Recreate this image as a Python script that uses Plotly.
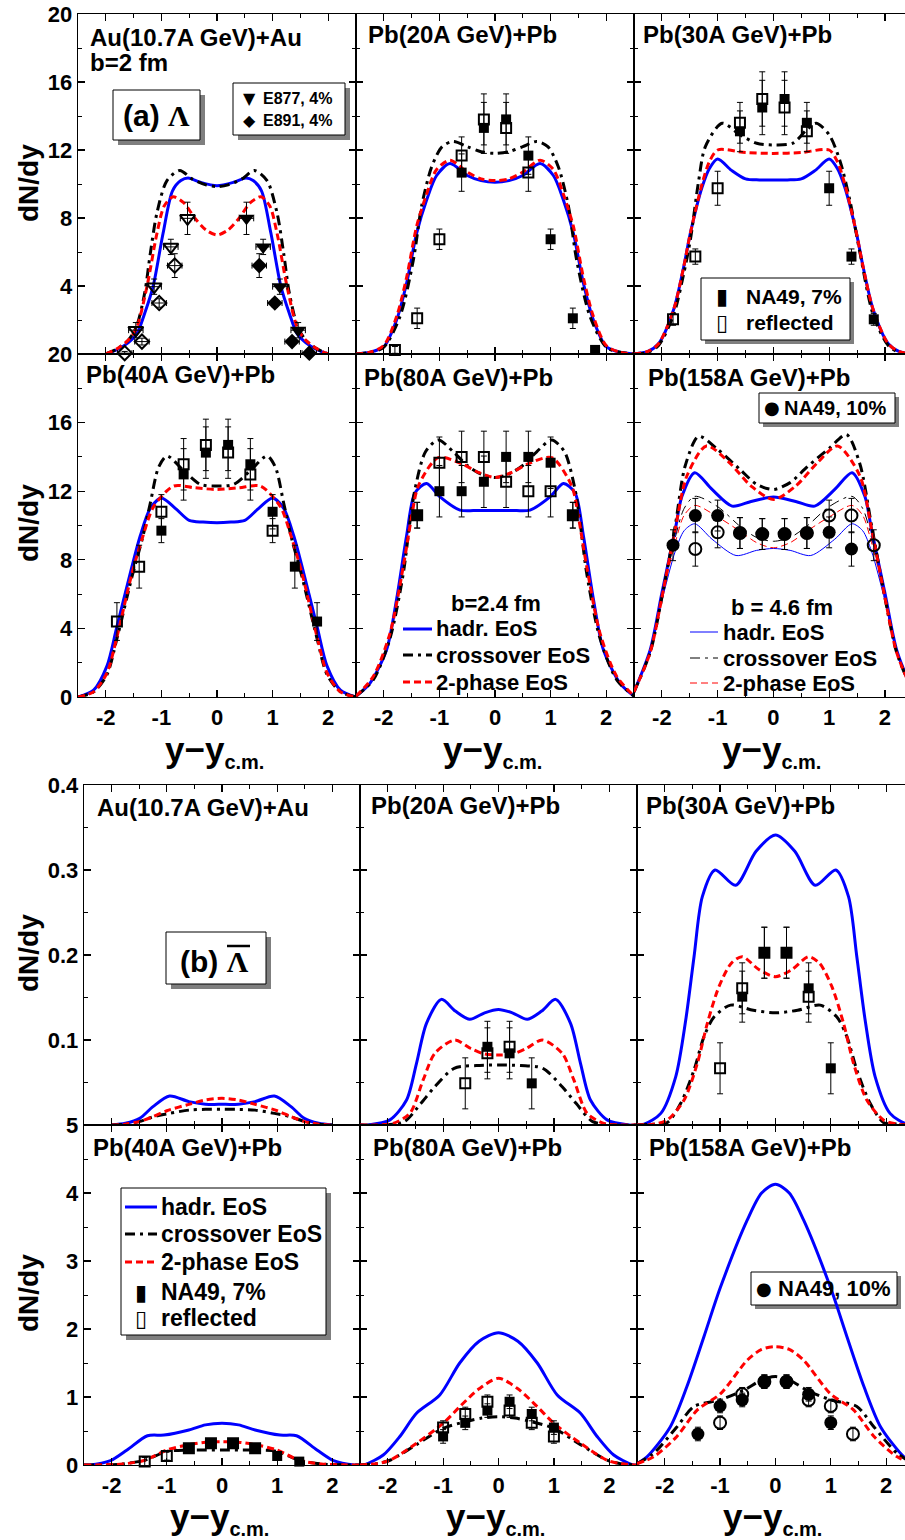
import plotly.graph_objects as go

# ===================== data =====================
# ---- (a) Lambda, Au(10.7A GeV)+Au, b=2 fm ----
AU_LAM_HADR_X = [-2.0,-1.8,-1.6,-1.44,-1.3,-1.15,-0.97,-0.8,-0.65,-0.52,-0.3,0.0,0.3,0.52,0.65,0.8,0.97,1.15,1.3,1.44,1.6,1.8,2.0]
AU_LAM_HADR_Y = [0.0,0.25,0.65,1.2,2.4,3.96,7.1,9.6,10.2,10.35,10.1,9.9,10.1,10.35,10.2,9.6,7.1,3.96,2.4,1.2,0.65,0.25,0.0]
AU_LAM_CROSS_X = [-2.0,-1.8,-1.6,-1.45,-1.3,-1.2,-1.08,-0.9,-0.67,-0.45,-0.2,0.0,0.2,0.45,0.67,0.9,1.08,1.2,1.3,1.45,1.6,1.8,2.0]
AU_LAM_CROSS_Y = [0.0,0.3,0.8,1.6,3.6,5.9,8.3,10.2,10.8,10.3,9.95,9.85,9.95,10.3,10.8,10.2,8.3,5.9,3.6,1.6,0.8,0.3,0.0]
AU_LAM_2PH_X = [-2.0,-1.8,-1.6,-1.45,-1.26,-1.08,-0.95,-0.79,-0.6,-0.4,-0.2,0.0,0.2,0.4,0.6,0.79,0.95,1.08,1.26,1.45,1.6,1.8,2.0]
AU_LAM_2PH_Y = [0.0,0.3,0.8,1.5,3.96,7.1,8.7,9.25,8.9,8.0,7.3,7.0,7.3,8.0,8.9,9.25,8.7,7.1,3.96,1.5,0.8,0.3,0.0]
E877_X = [0.53, 0.83, 1.13, 1.46]
E877_Y = [7.98, 6.3, 3.96, 1.4]
E877_ERR = [0.95, 0.45, 0.45, 0.45]
E877_REFL_X = [-0.53, -0.83, -1.13, -1.46]
E877_REFL_Y = [7.98, 6.3, 3.96, 1.4]
E891_X = [0.76, 1.04, 1.35, 1.66]
E891_Y = [5.2, 3.0, 0.73, 0.05]
E891_ERR = [0.7, 0.25, 0.2, 0.1]
E891_REFL_X = [-0.76, -1.04, -1.35, -1.66]
E891_REFL_Y = [5.2, 3.0, 0.73, 0.05]
AGS_XERR = [0.13, 0.13, 0.13, 0.13]

# ---- Lambda, Pb(20A GeV)+Pb ----
PB20_LAM_HADR_X = [-2.5,-2.25,-2.0,-1.77,-1.59,-1.41,-1.23,-1.05,-0.81,-0.5,-0.25,0.0,0.25,0.5,0.81,1.05,1.23,1.41,1.59,1.77,2.0,2.25,2.5]
PB20_LAM_HADR_Y = [0.0,0.1,0.43,2.0,4.16,7.1,9.06,10.5,11.2,10.5,10.2,10.1,10.2,10.5,11.2,10.5,9.06,7.1,4.16,2.0,0.43,0.1,0.0]
PB20_LAM_2PH_X = [-2.5,-2.25,-2.0,-1.77,-1.59,-1.41,-1.23,-1.05,-0.81,-0.5,-0.25,0.0,0.25,0.5,0.81,1.05,1.23,1.41,1.59,1.77,2.0,2.25,2.5]
PB20_LAM_2PH_Y = [0.0,0.1,0.5,2.2,4.5,7.5,9.4,10.85,11.4,10.7,10.3,10.2,10.3,10.7,11.4,10.85,9.4,7.5,4.5,2.2,0.5,0.1,0.0]
PB20_LAM_CROSS_X = [-2.5,-2.25,-2.0,-1.71,-1.47,-1.32,-1.14,-0.95,-0.75,-0.5,-0.25,0.0,0.25,0.5,0.75,0.95,1.14,1.32,1.47,1.71,2.0,2.25,2.5]
PB20_LAM_CROSS_Y = [0.0,0.1,0.4,2.2,5.5,8.7,11.0,12.2,12.5,12.2,11.9,11.8,11.9,12.2,12.5,12.2,11.0,8.7,5.5,2.2,0.4,0.1,0.0]
PB20_LAM_DATA_X = [-0.6, -0.2, 0.2, 0.6, 1.0, 1.4, 1.8]
PB20_LAM_DATA_Y = [10.67, 13.3, 13.8, 11.67, 6.75, 2.1, 0.24]
PB20_LAM_DATA_ERR = [1.1, 1.5, 1.5, 1.1, 0.6, 0.6, 0.2]
PB20_LAM_REFL_X = [-1.8, -1.4, -1.0, -0.6, -0.2, 0.2, 0.6]
PB20_LAM_REFL_Y = [0.24, 2.1, 6.75, 11.67, 13.8, 13.3, 10.67]
PB20_LAM_REFL_ERR = [0.2, 0.6, 0.6, 1.1, 1.5, 1.5, 1.1]

# ---- Lambda, Pb(30A GeV)+Pb ----
PB30_LAM_HADR_X = [-2.5,-2.25,-2.06,-1.79,-1.61,-1.49,-1.28,-1.15,-1.0,-0.75,-0.5,-0.25,0.0,0.25,0.5,0.75,1.0,1.15,1.28,1.49,1.61,1.79,2.06,2.25,2.5]
PB30_LAM_HADR_Y = [0.0,0.15,0.6,2.6,5.1,7.1,9.8,10.9,11.47,10.8,10.3,10.24,10.24,10.24,10.3,10.8,11.47,10.9,9.8,7.1,5.1,2.6,0.6,0.15,0.0]
PB30_LAM_2PH_X = [-2.5,-2.25,-2.06,-1.79,-1.61,-1.49,-1.28,-1.15,-1.0,-0.5,0.0,0.5,1.0,1.15,1.28,1.49,1.61,1.79,2.06,2.25,2.5]
PB30_LAM_2PH_Y = [0.0,0.15,0.6,2.6,5.1,7.1,10.0,11.3,12.0,11.85,11.8,11.85,12.0,11.3,10.0,7.1,5.1,2.6,0.6,0.15,0.0]
PB30_LAM_CROSS_X = [-2.5,-2.25,-2.06,-1.79,-1.61,-1.49,-1.34,-1.22,-0.92,-0.6,-0.3,0.0,0.35,0.6,0.77,1.0,1.19,1.37,1.55,1.79,2.06,2.25,2.5]
PB30_LAM_CROSS_Y = [0.0,0.1,0.5,2.3,4.7,6.7,10.2,12.2,13.57,12.9,12.4,12.3,12.4,13.2,13.57,12.9,11.4,9.06,6.0,2.3,0.5,0.1,0.0]
PB30_LAM_DATA_X = [-0.6, -0.2, 0.2, 0.6, 1.0, 1.4, 1.8]
PB30_LAM_DATA_Y = [13.1, 14.5, 15.0, 13.6, 9.75, 5.73, 2.04]
PB30_LAM_DATA_ERR = [1.2, 1.6, 1.6, 1.2, 1.0, 0.45, 0.35]
PB30_LAM_REFL_X = [-1.8, -1.4, -1.0, -0.6, -0.2, 0.2, 0.6]
PB30_LAM_REFL_Y = [2.04, 5.73, 9.75, 13.6, 15.0, 14.5, 13.1]
PB30_LAM_REFL_ERR = [0.35, 0.45, 1.0, 1.2, 1.6, 1.6, 1.2]

# ---- Lambda, Pb(40A GeV)+Pb ----
PB40_LAM_HADR_X = [-2.5,-2.22,-1.98,-1.8,-1.53,-1.38,-1.2,-1.0,-0.75,-0.5,-0.25,0.0,0.25,0.5,0.75,1.0,1.2,1.38,1.53,1.8,1.98,2.22,2.5]
PB40_LAM_HADR_Y = [0.0,0.4,1.8,4.1,7.6,9.4,11.0,11.6,11.0,10.3,10.2,10.16,10.2,10.3,11.0,11.6,11.0,9.4,7.6,4.1,1.8,0.4,0.0]
PB40_LAM_2PH_X = [-2.5,-2.22,-1.98,-1.8,-1.53,-1.33,-1.14,-0.78,-0.4,0.0,0.4,0.78,1.14,1.33,1.53,1.8,1.98,2.22,2.5]
PB40_LAM_2PH_Y = [0.0,0.3,1.4,3.5,7.2,9.4,11.1,12.3,12.2,12.1,12.2,12.3,11.1,9.4,7.2,3.5,1.4,0.3,0.0]
PB40_LAM_CROSS_X = [-2.5,-2.22,-1.98,-1.8,-1.53,-1.33,-1.2,-1.05,-0.9,-0.6,-0.3,0.0,0.3,0.6,0.9,1.05,1.2,1.33,1.53,1.8,1.98,2.22,2.5]
PB40_LAM_CROSS_Y = [0.0,0.3,1.3,3.4,7.0,9.4,11.3,13.4,14.05,13.2,12.4,12.3,12.4,13.2,14.05,13.4,11.3,9.4,7.0,3.4,1.3,0.3,0.0]
PB40_LAM_DATA_X = [-1.0, -0.6, -0.2, 0.2, 0.6, 1.0, 1.4, 1.8]
PB40_LAM_DATA_Y = [9.7, 12.98, 14.25, 14.7, 13.57, 10.8, 7.6, 4.4]
PB40_LAM_DATA_ERR = [0.7, 1.5, 1.5, 1.5, 1.5, 1.0, 1.25, 1.1]
PB40_LAM_REFL_X = [-1.8, -1.4, -1.0, -0.6, -0.2, 0.2, 0.6, 1.0]
PB40_LAM_REFL_Y = [4.4, 7.6, 10.8, 13.57, 14.7, 14.25, 12.98, 9.7]
PB40_LAM_REFL_ERR = [1.1, 1.25, 1.0, 1.5, 1.5, 1.5, 1.5, 0.7]

# ---- Lambda, Pb(80A GeV)+Pb, b=2.4 fm ----
PB80_LAM_HADR_X = [-2.5,-2.25,-1.95,-1.77,-1.59,-1.44,-1.23,-1.0,-0.63,-0.3,0.0,0.3,0.63,1.0,1.23,1.44,1.59,1.77,1.95,2.25,2.5]
PB80_LAM_HADR_Y = [0.05,0.8,2.75,5.7,9.4,11.9,12.45,11.7,10.9,10.88,10.88,10.88,10.9,11.7,12.45,11.9,9.4,5.7,2.75,0.8,0.05]
PB80_LAM_2PH_X = [-2.5,-2.19,-1.89,-1.65,-1.5,-1.38,-1.02,-0.6,-0.3,0.0,0.3,0.6,1.02,1.38,1.5,1.65,1.89,2.19,2.5]
PB80_LAM_2PH_Y = [0.05,1.2,3.7,7.6,10.5,12.3,13.96,13.6,13.1,12.8,13.1,13.6,13.96,12.3,10.5,7.6,3.7,1.2,0.05]
PB80_LAM_CROSS_X = [-2.5,-2.19,-1.89,-1.65,-1.53,-1.44,-1.25,-1.02,-0.75,-0.5,-0.25,0.0,0.25,0.5,0.75,1.02,1.25,1.44,1.53,1.65,1.89,2.19,2.5]
PB80_LAM_CROSS_Y = [0.05,1.0,3.4,7.2,10.2,12.1,14.3,14.99,14.3,13.5,13.0,12.8,13.0,13.5,14.3,14.99,14.3,12.1,10.2,7.2,3.4,1.0,0.05]
PB80_LAM_DATA_X = [-1.4, -1.0, -0.6, -0.2, 0.2, 0.6, 1.0, 1.4]
PB80_LAM_DATA_Y = [10.6, 12.0, 12.0, 12.55, 14.0, 14.0, 13.66, 10.6]
PB80_LAM_DATA_ERR = [0.75, 1.5, 1.5, 1.5, 1.5, 1.5, 1.5, 0.75]
PB80_LAM_REFL_X = [-1.4, -1.0, -0.6, -0.2, 0.2, 0.6, 1.0, 1.4]
PB80_LAM_REFL_Y = [10.6, 13.66, 14.0, 14.0, 12.55, 12.0, 12.0, 10.6]
PB80_LAM_REFL_ERR = [0.75, 1.5, 1.5, 1.5, 1.5, 1.5, 1.5, 0.75]

# ---- Lambda, Pb(158A GeV)+Pb (thick: b=2.4 fm, thin: b=4.6 fm) ----
PB158_LAM_HADR_X = [-2.5,-2.21,-2.0,-1.76,-1.64,-1.41,-1.1,-0.74,-0.4,0.0,0.4,0.74,1.1,1.41,1.64,1.76,2.0,2.21,2.5]
PB158_LAM_HADR_Y = [0.3,2.75,6.06,9.77,11.7,13.08,12.1,11.13,11.4,11.66,11.4,11.13,12.1,13.08,11.7,9.77,6.06,2.75,0.3]
PB158_LAM_2PH_X = [-2.5,-2.21,-2.0,-1.76,-1.55,-1.2,-0.8,-0.4,0.0,0.4,0.8,1.15,1.55,1.76,2.0,2.21,2.5]
PB158_LAM_2PH_Y = [0.3,2.6,5.8,9.8,12.9,14.64,13.7,12.3,11.52,12.3,13.7,14.64,12.9,9.8,5.8,2.6,0.3]
PB158_LAM_CROSS_X = [-2.5,-2.21,-2.0,-1.76,-1.58,-1.34,-1.0,-0.6,-0.3,0.0,0.3,0.6,1.0,1.31,1.55,1.76,2.0,2.21,2.5]
PB158_LAM_CROSS_Y = [0.3,2.6,5.8,10.0,13.5,15.2,14.44,13.27,12.4,12.1,12.5,13.4,14.5,15.3,13.6,10.0,5.8,2.6,0.3]
PB158_LAM_HADR_THIN_X = [-2.5,-2.21,-2.0,-1.76,-1.6,-1.41,-1.1,-0.67,-0.3,0.0,0.3,0.67,1.1,1.41,1.6,1.76,2.0,2.21,2.5]
PB158_LAM_HADR_THIN_Y = [0.3,2.6,5.6,8.5,9.7,10.1,9.2,8.25,8.55,8.66,8.55,8.25,9.2,10.1,9.7,8.5,5.6,2.6,0.3]
PB158_LAM_2PH_THIN_X = [-2.5,-2.21,-2.0,-1.76,-1.6,-1.41,-1.0,-0.6,-0.3,0.0,0.3,0.6,1.0,1.41,1.6,1.76,2.0,2.21,2.5]
PB158_LAM_2PH_THIN_Y = [0.3,2.6,5.8,9.0,10.6,11.17,10.5,9.67,9.0,8.7,9.0,9.67,10.5,11.17,10.6,9.0,5.8,2.6,0.3]
PB158_LAM_CROSS_THIN_X = [-2.5,-2.21,-2.0,-1.76,-1.6,-1.41,-1.0,-0.6,-0.3,0.0,0.3,0.6,1.0,1.41,1.6,1.76,2.0,2.21,2.5]
PB158_LAM_CROSS_THIN_Y = [0.3,2.6,5.8,9.3,11.0,11.7,11.1,9.96,9.3,9.08,9.3,9.96,11.1,11.7,11.0,9.3,5.8,2.6,0.3]
PB158_LAM_DATA_X = [-1.8, -1.4, -1.0, -0.6, -0.2, 0.2, 0.6, 1.0, 1.4]
PB158_LAM_DATA_Y = [8.85, 10.58, 10.58, 9.56, 9.5, 9.5, 9.56, 9.6, 8.63]
PB158_LAM_DATA_ERR = [0.9, 1.0, 0.9, 0.9, 0.9, 0.9, 0.9, 0.9, 1.0]
PB158_LAM_REFL_X = [-1.4, -1.0, -0.6, -0.2, 0.2, 0.6, 1.0, 1.4, 1.8]
PB158_LAM_REFL_Y = [8.63, 9.6, 9.56, 9.5, 9.5, 9.56, 10.58, 10.58, 8.85]
PB158_LAM_REFL_ERR = [1.0, 0.9, 0.9, 0.9, 0.9, 0.9, 0.9, 1.0, 0.9]

# ---- (b) anti-Lambda, Au(10.7A GeV)+Au ----
AU_ALAM_HADR_X = [-2.0,-1.75,-1.49,-1.25,-0.95,-0.6,-0.3,0.0,0.3,0.6,0.95,1.25,1.49,1.75,2.0]
AU_ALAM_HADR_Y = [0.0,0.002,0.0078,0.0216,0.0341,0.0275,0.0245,0.0243,0.0245,0.0275,0.0341,0.0216,0.0078,0.002,0.0]
AU_ALAM_2PH_X = [-2.0,-1.75,-1.5,-1.25,-1.0,-0.6,-0.3,0.0,0.3,0.6,1.0,1.25,1.5,1.75,2.0]
AU_ALAM_2PH_Y = [0.0,0.001,0.004,0.0098,0.0168,0.0243,0.0294,0.0314,0.0294,0.0243,0.0168,0.0098,0.004,0.001,0.0]
AU_ALAM_CROSS_X = [-2.0,-1.75,-1.5,-1.25,-0.95,-0.6,-0.3,0.0,0.3,0.6,0.95,1.25,1.5,1.75,2.0]
AU_ALAM_CROSS_Y = [0.0,0.001,0.004,0.0095,0.0137,0.0175,0.0184,0.0184,0.0184,0.0175,0.0137,0.0095,0.004,0.001,0.0]

# ---- anti-Lambda, Pb(20A GeV)+Pb ----
PB20_ALAM_HADR_X = [-2.5,-2.35,-1.96,-1.66,-1.48,-1.3,-1.03,-0.78,-0.52,-0.25,0.0,0.25,0.52,0.78,1.03,1.3,1.48,1.66,1.96,2.35,2.5]
PB20_ALAM_HADR_Y = [0.0,0.0,0.006,0.0294,0.0726,0.1196,0.1478,0.134,0.1243,0.132,0.136,0.132,0.1243,0.134,0.1478,0.1196,0.0726,0.0294,0.006,0.0,0.0]
PB20_ALAM_2PH_X = [-2.5,-2.2,-1.9,-1.6,-1.36,-1.15,-0.79,-0.5,-0.25,0.0,0.25,0.5,0.79,1.15,1.36,1.6,1.9,2.2,2.5]
PB20_ALAM_2PH_Y = [0.0,0.0,0.002,0.0137,0.053,0.0843,0.1,0.09,0.0835,0.0824,0.0835,0.09,0.1,0.0843,0.053,0.0137,0.002,0.0,0.0]
PB20_ALAM_CROSS_X = [-2.5,-2.1,-1.7,-1.4,-1.15,-0.8,-0.4,0.0,0.4,0.8,1.15,1.4,1.7,2.1,2.5]
PB20_ALAM_CROSS_Y = [0.0,0.0,0.004,0.0255,0.045,0.0667,0.07,0.0706,0.07,0.0667,0.045,0.0255,0.004,0.0,0.0]
PB20_ALAM_DATA_X = [-0.2, 0.2, 0.6]
PB20_ALAM_DATA_Y = [0.092, 0.0843, 0.049]
PB20_ALAM_DATA_ERR = [0.03, 0.03, 0.03]
PB20_ALAM_REFL_X = [-0.6, -0.2, 0.2]
PB20_ALAM_REFL_Y = [0.049, 0.0843, 0.092]
PB20_ALAM_REFL_ERR = [0.03, 0.03, 0.03]

# ---- anti-Lambda, Pb(30A GeV)+Pb ----
PB30_ALAM_HADR_X = [-2.5,-2.37,-2.07,-1.8,-1.62,-1.47,-1.32,-1.09,-0.72,-0.35,0.0,0.35,0.72,1.09,1.32,1.47,1.62,1.8,2.07,2.37,2.5]
PB30_ALAM_HADR_Y = [0.0,0.001,0.0137,0.057,0.1235,0.198,0.2686,0.3,0.282,0.322,0.3412,0.322,0.282,0.3,0.2686,0.198,0.1235,0.057,0.0137,0.001,0.0]
PB30_ALAM_2PH_X = [-2.5,-2.2,-1.95,-1.65,-1.41,-1.23,-1.02,-0.8,-0.6,-0.3,0.0,0.3,0.6,0.8,1.02,1.23,1.41,1.65,1.95,2.2,2.5]
PB30_ALAM_2PH_Y = [0.0,0.001,0.006,0.0294,0.0726,0.1196,0.1627,0.19,0.198,0.183,0.1745,0.183,0.198,0.19,0.1627,0.1196,0.0726,0.0294,0.006,0.001,0.0]
PB30_ALAM_CROSS_X = [-2.5,-2.2,-1.95,-1.71,-1.47,-1.29,-1.11,-0.81,-0.4,0.0,0.4,0.81,1.11,1.29,1.47,1.71,1.95,2.2,2.5]
PB30_ALAM_CROSS_Y = [0.0,0.001,0.003,0.0255,0.0647,0.104,0.127,0.141,0.135,0.132,0.135,0.141,0.127,0.104,0.0647,0.0255,0.003,0.001,0.0]
PB30_ALAM_DATA_X = [-0.6, -0.2, 0.2, 0.6, 1.0]
PB30_ALAM_DATA_Y = [0.151, 0.2027, 0.2027, 0.1608, 0.0667]
PB30_ALAM_DATA_ERR = [0.03, 0.03, 0.03, 0.03, 0.03]
PB30_ALAM_REFL_X = [-1.0, -0.6, -0.2, 0.2, 0.6]
PB30_ALAM_REFL_Y = [0.0667, 0.1608, 0.2027, 0.2027, 0.151]
PB30_ALAM_REFL_ERR = [0.03, 0.03, 0.03, 0.03, 0.03]

# ---- anti-Lambda, Pb(40A GeV)+Pb ----
PB40_ALAM_HADR_X = [-2.5,-2.4,-2.02,-1.72,-1.35,-1.05,-0.6,-0.3,0.0,0.3,0.6,1.05,1.35,1.72,2.02,2.4,2.5]
PB40_ALAM_HADR_Y = [0.0,0.0,0.064,0.22,0.43,0.44,0.515,0.59,0.613,0.59,0.515,0.44,0.43,0.22,0.064,0.0,0.0]
PB40_ALAM_2PH_X = [-2.5,-2.2,-1.8,-1.4,-1.0,-0.6,-0.3,0.0,0.3,0.6,1.0,1.4,1.8,2.2,2.5]
PB40_ALAM_2PH_Y = [0.0,0.002,0.015,0.07,0.22,0.3,0.335,0.343,0.335,0.3,0.22,0.07,0.015,0.002,0.0]
PB40_ALAM_CROSS_X = [-2.5,-2.2,-1.8,-1.4,-1.0,-0.6,-0.3,0.0,0.3,0.6,1.0,1.4,1.8,2.2,2.5]
PB40_ALAM_CROSS_Y = [0.0,0.002,0.015,0.07,0.2,0.22,0.22,0.22,0.22,0.22,0.2,0.07,0.015,0.002,0.0]
PB40_ALAM_DATA_X = [-0.6, -0.2, 0.2, 0.6, 1.0, 1.4]
PB40_ALAM_DATA_Y = [0.245, 0.319, 0.319, 0.245, 0.132, 0.05]
PB40_ALAM_DATA_ERR = [0.06, 0.06, 0.06, 0.06, 0.06, 0.06]
PB40_ALAM_REFL_X = [-1.4, -1.0, -0.6, -0.2, 0.2, 0.6]
PB40_ALAM_REFL_Y = [0.05, 0.132, 0.245, 0.319, 0.319, 0.245]
PB40_ALAM_REFL_ERR = [0.06, 0.06, 0.06, 0.06, 0.06, 0.06]

# ---- anti-Lambda, Pb(80A GeV)+Pb ----
PB80_ALAM_HADR_X = [-2.5,-2.4,-2.08,-1.78,-1.48,-1.06,-0.7,-0.35,0.0,0.35,0.7,1.06,1.48,1.78,2.08,2.4,2.5]
PB80_ALAM_HADR_Y = [0.0,0.01,0.147,0.42,0.76,1.03,1.5,1.82,1.946,1.82,1.5,1.03,0.76,0.42,0.147,0.01,0.0]
PB80_ALAM_2PH_X = [-2.5,-2.2,-1.96,-1.48,-1.0,-0.7,-0.35,0.0,0.35,0.7,1.0,1.48,1.96,2.2,2.5]
PB80_ALAM_2PH_Y = [0.0,0.02,0.07,0.32,0.613,0.857,1.12,1.275,1.12,0.857,0.613,0.32,0.07,0.02,0.0]
PB80_ALAM_CROSS_X = [-2.5,-2.2,-1.96,-1.48,-1.0,-0.58,-0.3,0.0,0.3,0.58,1.0,1.48,1.96,2.2,2.5]
PB80_ALAM_CROSS_Y = [0.0,0.02,0.07,0.3,0.54,0.64,0.69,0.71,0.69,0.64,0.54,0.3,0.07,0.02,0.0]
PB80_ALAM_DATA_X = [-1.0, -0.6, -0.2, 0.2, 0.6, 1.0]
PB80_ALAM_DATA_Y = [0.42, 0.62, 0.8, 0.93, 0.75, 0.55]
PB80_ALAM_DATA_ERR = [0.1, 0.1, 0.1, 0.1, 0.1, 0.1]
PB80_ALAM_REFL_X = [-1.0, -0.6, -0.2, 0.2, 0.6, 1.0]
PB80_ALAM_REFL_Y = [0.55, 0.75, 0.93, 0.8, 0.62, 0.42]
PB80_ALAM_REFL_ERR = [0.1, 0.1, 0.1, 0.1, 0.1, 0.1]

# ---- anti-Lambda, Pb(158A GeV)+Pb ----
PB158_ALAM_HADR_X = [-2.5,-2.32,-1.9,-1.6,-1.29,-0.99,-0.51,-0.25,0.0,0.25,0.51,0.99,1.29,1.6,1.9,2.32,2.5]
PB158_ALAM_HADR_Y = [0.02,0.12,0.56,1.15,1.89,2.62,3.6,4.0,4.13,4.0,3.6,2.62,1.89,1.15,0.56,0.12,0.02]
PB158_ALAM_2PH_X = [-2.5,-2.2,-1.78,-1.41,-0.99,-0.51,-0.25,0.0,0.25,0.51,0.99,1.41,1.78,2.2,2.5]
PB158_ALAM_2PH_Y = [0.02,0.12,0.42,0.81,1.05,1.54,1.7,1.74,1.7,1.54,1.05,0.81,0.42,0.12,0.02]
PB158_ALAM_CROSS_X = [-2.5,-2.2,-1.78,-1.47,-0.99,-0.57,-0.25,0.0,0.25,0.57,0.99,1.47,1.78,2.2,2.5]
PB158_ALAM_CROSS_Y = [0.02,0.17,0.56,0.86,0.96,1.1,1.25,1.3,1.25,1.1,0.96,0.86,0.56,0.17,0.02]
PB158_ALAM_DATA_X = [-1.4, -1.0, -0.6, -0.2, 0.2, 0.6, 1.0]
PB158_ALAM_DATA_Y = [0.456, 0.868, 0.956, 1.225, 1.225, 1.04, 0.622]
PB158_ALAM_DATA_ERR = [0.1, 0.1, 0.1, 0.1, 0.1, 0.1, 0.1]
PB158_ALAM_REFL_X = [-1.0, -0.6, -0.2, 0.2, 0.6, 1.0, 1.4]
PB158_ALAM_REFL_Y = [0.622, 1.04, 1.225, 1.225, 0.956, 0.868, 0.456]
PB158_ALAM_REFL_ERR = [0.1, 0.1, 0.1, 0.1, 0.1, 0.1, 0.1]

X_TICKS = [-2, -1, 0, 1, 2]
X_TICKTEXT = ["-2", "-1", "0", "1", "2"]
LAM_TICKS_TOP = [4, 8, 12, 16, 20]
LAM_TICKS = [0, 4, 8, 12, 16, 20]
ALAM_TOP_TICKS = [0.1, 0.2, 0.3, 0.4]
ALAM_BOT_TICKS = [0, 1, 2, 3, 4, 5]

PANEL_TITLES = ["Au(10.7A GeV)+Au", "Pb(20A GeV)+Pb", "Pb(30A GeV)+Pb",
                "Pb(40A GeV)+Pb", "Pb(80A GeV)+Pb", "Pb(158A GeV)+Pb",
                "Au(10.7A GeV)+Au", "Pb(20A GeV)+Pb", "Pb(30A GeV)+Pb",
                "Pb(40A GeV)+Pb", "Pb(80A GeV)+Pb", "Pb(158A GeV)+Pb"]

# ===================== styling / layout =====================
W, H = 905, 1540
FONT = "Liberation Sans"
SYMF = "DejaVu Sans"
BLUE = "#0000ff"
RED = "#ff0000"
BLACK = "#000000"
DASH_CROSS = "10px,5px,3px,5px"
DASH_2PH = "7px,4px"


def X(p):
    return p / W


def Y(p):
    return 1 - p / H


COLS_TOP = [(78, 356, [-2.5, 2.5]), (356, 634, [-2.5, 2.5]), (634, 905, [-2.5, 2.36])]
COLS_BOT = [(84, 360, [-2.5, 2.5]), (360, 637, [-2.5, 2.5]), (637, 905, [-2.5, 2.34])]
ROWS = [(14, 354), (354, 697), (785, 1125), (1125, 1465)]

fig = go.Figure()
layout = dict(width=W, height=H, margin=dict(l=0, r=0, t=0, b=0, autoexpand=False),
              paper_bgcolor="white", plot_bgcolor="rgba(0,0,0,0)", showlegend=False)

tickfont = dict(family=FONT, size=22, color="black", weight="bold")
for i in range(12):
    r, c = divmod(i, 3)
    n = "" if i == 0 else str(i + 1)
    cols = COLS_TOP if r < 2 else COLS_BOT
    x0, x1, xr = cols[c]
    y0, y1 = ROWS[r]
    layout["xaxis" + n] = dict(
        domain=[X(x0), X(x1)], range=xr, anchor="y" + n, automargin=False,
        showline=True, linecolor="black", linewidth=1.3, mirror="allticks",
        ticks="inside", ticklen=7, tickwidth=1.2, tickcolor="black",
        tickmode="array", tickvals=X_TICKS, ticktext=X_TICKTEXT,
        showticklabels=(r in (1, 3)), tickfont=tickfont, showgrid=False, zeroline=False,
        minor=dict(ticks="inside", ticklen=4, tickwidth=1, tickcolor="black", dtick=0.5, tick0=0.5, showgrid=False),
        fixedrange=True,
    )
    if r == 0:
        yr, tv, md = [0, 20], LAM_TICKS_TOP, 2
        tt = [str(v) for v in tv]
    elif r == 1:
        yr, tv, md = [0, 20], LAM_TICKS, 2
        tt = [str(v) for v in tv]
    elif r == 2:
        yr, tv, md = [0, 0.4], ALAM_TOP_TICKS, 0.05
        tt = ["%.1f" % v for v in tv]
    else:
        yr, tv, md = [0, 5], ALAM_BOT_TICKS, 0.5
        tt = [str(v) for v in tv]
    layout["yaxis" + n] = dict(
        domain=[Y(y1), Y(y0)], range=yr, anchor="x" + n, automargin=False,
        showline=True, linecolor="black", linewidth=1.3,
        mirror=("allticks" if c < 2 else False),
        ticks="inside", ticklen=7, tickwidth=1.2, tickcolor="black",
        tickmode="array", tickvals=tv, ticktext=tt,
        showticklabels=(c == 0), tickfont=tickfont, showgrid=False, zeroline=False,
        minor=dict(ticks="inside", ticklen=4, tickwidth=1, tickcolor="black", dtick=md, tick0=0, showgrid=False),
        fixedrange=True,
    )
fig.update_layout(**layout)


def ax(i):
    return ("x", "y") if i == 1 else ("x%d" % i, "y%d" % i)


def curve(i, x, y, color, dash="solid", width=3):
    xa, ya = ax(i)
    fig.add_trace(go.Scatter(x=x, y=y, mode="lines", xaxis=xa, yaxis=ya,
                             line=dict(color=color, dash=dash, width=width, shape="spline", smoothing=0.8),
                             hoverinfo="skip"))


def points(i, x, y, err, symbol, size, lw=0, xerr=None):
    xa, ya = ax(i)
    kw = {}
    if xerr is not None:
        kw["error_x"] = dict(type="data", array=xerr, visible=True, color="black", thickness=1, width=3)
    fig.add_trace(go.Scatter(x=x, y=y, mode="markers", xaxis=xa, yaxis=ya, cliponaxis=False,
                             marker=dict(symbol=symbol, size=size, color="black",
                                         line=dict(color="black", width=lw)),
                             error_y=dict(type="data", array=err, visible=True, color="black", thickness=1, width=3),
                             hoverinfo="skip", **kw))


def three(i, hx, hy, cx, cy, px_, py_, width=3):
    curve(i, hx, hy, BLUE, "solid", width)
    curve(i, cx, cy, BLACK, DASH_CROSS, width)
    curve(i, px_, py_, RED, DASH_2PH, width)


# ---- Lambda panels ----
three(1, AU_LAM_HADR_X, AU_LAM_HADR_Y, AU_LAM_CROSS_X, AU_LAM_CROSS_Y, AU_LAM_2PH_X, AU_LAM_2PH_Y)
points(1, E877_REFL_X, E877_REFL_Y, E877_ERR, "triangle-down-open", 13, 2, AGS_XERR)
points(1, E891_REFL_X, E891_REFL_Y, E891_ERR, "diamond-open", 11, 2, AGS_XERR)
points(1, E877_X, E877_Y, E877_ERR, "triangle-down", 14, 0, AGS_XERR)
points(1, E891_X, E891_Y, E891_ERR, "diamond", 12, 0, AGS_XERR)

three(2, PB20_LAM_HADR_X, PB20_LAM_HADR_Y, PB20_LAM_CROSS_X, PB20_LAM_CROSS_Y, PB20_LAM_2PH_X, PB20_LAM_2PH_Y)
points(2, PB20_LAM_DATA_X, PB20_LAM_DATA_Y, PB20_LAM_DATA_ERR, "square", 10)
points(2, PB20_LAM_REFL_X, PB20_LAM_REFL_Y, PB20_LAM_REFL_ERR, "square-open", 10, 2)

three(3, PB30_LAM_HADR_X, PB30_LAM_HADR_Y, PB30_LAM_CROSS_X, PB30_LAM_CROSS_Y, PB30_LAM_2PH_X, PB30_LAM_2PH_Y)
points(3, PB30_LAM_DATA_X, PB30_LAM_DATA_Y, PB30_LAM_DATA_ERR, "square", 10)
points(3, PB30_LAM_REFL_X, PB30_LAM_REFL_Y, PB30_LAM_REFL_ERR, "square-open", 10, 2)

three(4, PB40_LAM_HADR_X, PB40_LAM_HADR_Y, PB40_LAM_CROSS_X, PB40_LAM_CROSS_Y, PB40_LAM_2PH_X, PB40_LAM_2PH_Y)
points(4, PB40_LAM_DATA_X, PB40_LAM_DATA_Y, PB40_LAM_DATA_ERR, "square", 10)
points(4, PB40_LAM_REFL_X, PB40_LAM_REFL_Y, PB40_LAM_REFL_ERR, "square-open", 10, 2)

three(5, PB80_LAM_HADR_X, PB80_LAM_HADR_Y, PB80_LAM_CROSS_X, PB80_LAM_CROSS_Y, PB80_LAM_2PH_X, PB80_LAM_2PH_Y)
points(5, PB80_LAM_REFL_X, PB80_LAM_REFL_Y, PB80_LAM_REFL_ERR, "square-open", 10, 2)
points(5, PB80_LAM_DATA_X, PB80_LAM_DATA_Y, PB80_LAM_DATA_ERR, "square", 10)

three(6, PB158_LAM_HADR_THIN_X, PB158_LAM_HADR_THIN_Y, PB158_LAM_CROSS_THIN_X, PB158_LAM_CROSS_THIN_Y,
      PB158_LAM_2PH_THIN_X, PB158_LAM_2PH_THIN_Y, width=1)
three(6, PB158_LAM_HADR_X, PB158_LAM_HADR_Y, PB158_LAM_CROSS_X, PB158_LAM_CROSS_Y, PB158_LAM_2PH_X, PB158_LAM_2PH_Y)
points(6, PB158_LAM_REFL_X, PB158_LAM_REFL_Y, PB158_LAM_REFL_ERR, "circle-open", 12, 2)
points(6, PB158_LAM_DATA_X, PB158_LAM_DATA_Y, PB158_LAM_DATA_ERR, "circle", 13)

# ---- anti-Lambda panels ----
three(7, AU_ALAM_HADR_X, AU_ALAM_HADR_Y, AU_ALAM_CROSS_X, AU_ALAM_CROSS_Y, AU_ALAM_2PH_X, AU_ALAM_2PH_Y)

three(8, PB20_ALAM_HADR_X, PB20_ALAM_HADR_Y, PB20_ALAM_CROSS_X, PB20_ALAM_CROSS_Y, PB20_ALAM_2PH_X, PB20_ALAM_2PH_Y)
points(8, PB20_ALAM_DATA_X, PB20_ALAM_DATA_Y, PB20_ALAM_DATA_ERR, "square", 10)
points(8, PB20_ALAM_REFL_X, PB20_ALAM_REFL_Y, PB20_ALAM_REFL_ERR, "square-open", 10, 2)

three(9, PB30_ALAM_HADR_X, PB30_ALAM_HADR_Y, PB30_ALAM_CROSS_X, PB30_ALAM_CROSS_Y, PB30_ALAM_2PH_X, PB30_ALAM_2PH_Y)
points(9, PB30_ALAM_DATA_X, PB30_ALAM_DATA_Y, PB30_ALAM_DATA_ERR, "square", 10)
points(9, PB30_ALAM_REFL_X, PB30_ALAM_REFL_Y, PB30_ALAM_REFL_ERR, "square-open", 10, 2)

three(10, PB40_ALAM_HADR_X, PB40_ALAM_HADR_Y, PB40_ALAM_CROSS_X, PB40_ALAM_CROSS_Y, PB40_ALAM_2PH_X, PB40_ALAM_2PH_Y)
points(10, PB40_ALAM_DATA_X, PB40_ALAM_DATA_Y, PB40_ALAM_DATA_ERR, "square", 10)
points(10, PB40_ALAM_REFL_X, PB40_ALAM_REFL_Y, PB40_ALAM_REFL_ERR, "square-open", 10, 2)

three(11, PB80_ALAM_HADR_X, PB80_ALAM_HADR_Y, PB80_ALAM_CROSS_X, PB80_ALAM_CROSS_Y, PB80_ALAM_2PH_X, PB80_ALAM_2PH_Y)
points(11, PB80_ALAM_DATA_X, PB80_ALAM_DATA_Y, PB80_ALAM_DATA_ERR, "square", 10)
points(11, PB80_ALAM_REFL_X, PB80_ALAM_REFL_Y, PB80_ALAM_REFL_ERR, "square-open", 10, 2)

three(12, PB158_ALAM_HADR_X, PB158_ALAM_HADR_Y, PB158_ALAM_CROSS_X, PB158_ALAM_CROSS_Y, PB158_ALAM_2PH_X, PB158_ALAM_2PH_Y)
points(12, PB158_ALAM_REFL_X, PB158_ALAM_REFL_Y, PB158_ALAM_REFL_ERR, "circle-open", 12, 2)
points(12, PB158_ALAM_DATA_X, PB158_ALAM_DATA_Y, PB158_ALAM_DATA_ERR, "circle", 13)


# ===================== annotations & decorations =====================
def T(xp, yp, text, size=22, xa="left", ya="middle", family=FONT, angle=0, weight="bold"):
    fig.add_annotation(x=X(xp), y=Y(yp), xref="paper", yref="paper", text=text, showarrow=False,
                       xanchor=xa, yanchor=ya, textangle=angle, borderpad=0,
                       font=dict(family=family, size=size, color="black", weight=weight))


def box(x0, y0, x1, y1, sh=5):
    fig.add_shape(type="rect", xref="paper", yref="paper", x0=X(x0 + sh), x1=X(x1 + sh), y0=Y(y1 + sh), y1=Y(y0 + sh),
                  fillcolor="#7f7f7f", line=dict(width=0), layer="below")
    fig.add_shape(type="rect", xref="paper", yref="paper", x0=X(x0), x1=X(x1), y0=Y(y1), y1=Y(y0),
                  fillcolor="white", line=dict(color="black", width=1), layer="below")


def sample(x0, x1, yp, color, dash, width=3):
    fig.add_shape(type="line", xref="paper", yref="paper", x0=X(x0), x1=X(x1), y0=Y(yp), y1=Y(yp),
                  line=dict(color=color, dash=dash, width=width))


TITLE_POS = [(89, 38), (367, 35), (642, 35), (85, 375), (363, 377), (647, 377),
             (96, 808), (370, 805), (645, 805), (92, 1147), (372, 1147), (648, 1147)]
for (tx, ty), t in zip(TITLE_POS, PANEL_TITLES):
    T(tx, ty, t, 24)
T(89, 63, "b=2 fm", 24)

# y-axis titles
for cy in (183, 523, 953, 1293):
    T(28, cy, "dN/dy", 28, xa="center", angle=-90)
# x-axis titles
SUB = "y\u2212y<sub><span style='font-size:20px'>c.m.</span></sub>"
for cx in (214, 492, 771):
    T(cx, 752, SUB, 35, xa="center")
for cx in (219, 496, 772):
    T(cx, 1518, SUB, 35, xa="center")

# (a) Lambda label
box(113, 90, 200, 140, 5)
T(156, 115, "(a) <span style='font-family:Liberation Serif'>\u039b</span>", 30, xa="center")
# (b) anti-Lambda label
box(166, 932, 266, 984, 5)
T(214, 961, "(b) <span style='font-family:Liberation Serif'>\u039b</span>", 30, xa="center")
fig.add_shape(type="line", xref="paper", yref="paper", x0=X(227), x1=X(250), y0=Y(946), y1=Y(946),
              line=dict(color="black", width=2.5))

# E877/E891 legend
box(233, 83, 345, 135, 5)
T(249, 99, "\u25bc", 16, xa="center", family=SYMF)
T(262, 99, "E877, 4%", 16)
T(249, 120, "\u25c6", 16, xa="center", family=SYMF)
T(262, 120, "E891, 4%", 16)

# NA49 7% legend (Lambda 30A)
box(701, 278, 850, 340, 4)
T(722, 296, "\u25ae", 22, xa="center", family=SYMF)
T(745, 296, "NA49, 7%", 21)
T(722, 322, "\u25af", 22, xa="center", family=SYMF)
T(745, 322, "reflected", 21)

# NA49 10% legend (Lambda 158A)
box(759, 393, 895, 423, 4)
T(772, 408, "\u25cf", 18, xa="center", family=SYMF)
T(783, 408, "NA49, 10%", 20)

# EoS legend (Lambda 80A)
T(496, 603, "b=2.4 fm", 22, xa="center")
sample(403, 432, 629, BLUE, "solid")
sample(403, 432, 655, BLACK, DASH_CROSS)
sample(403, 432, 682, RED, DASH_2PH)
T(435, 629, "hadr. EoS", 22)
T(435, 655, "crossover EoS", 22)
T(435, 682, "2-phase EoS", 22)

# EoS legend (Lambda 158A, thin)
T(782, 607, "b = 4.6 fm", 22, xa="center")
sample(690, 718, 632, BLUE, "solid", 1)
sample(690, 718, 658, BLACK, DASH_CROSS, 1)
sample(690, 718, 683, RED, DASH_2PH, 1)
T(722, 632, "hadr. EoS", 22)
T(722, 658, "crossover EoS", 22)
T(722, 683, "2-phase EoS", 22)

# Full legend (anti-Lambda 40A)
box(121, 1188, 326, 1335, 5)
sample(125, 157, 1207, BLUE, "solid")
sample(125, 157, 1234, BLACK, DASH_CROSS)
sample(125, 157, 1262, RED, DASH_2PH)
T(141, 1292, "\u25ae", 22, xa="center", family=SYMF)
T(141, 1318, "\u25af", 22, xa="center", family=SYMF)
T(160, 1207, "hadr. EoS", 23)
T(160, 1234, "crossover EoS", 23)
T(160, 1262, "2-phase EoS", 23)
T(160, 1292, "NA49, 7%", 23)
T(160, 1318, "reflected", 23)

# NA49 10% legend (anti-Lambda 158A)
box(751, 1272, 897, 1305, 4)
T(764, 1288, "\u25cf", 18, xa="center", family=SYMF)
T(777, 1288, "NA49, 10%", 22)

fig.write_html("out.html", config={"displayModeBar": False, "staticPlot": True},
               post_script="document.body.style.margin='0px';document.body.style.overflow='hidden';")
